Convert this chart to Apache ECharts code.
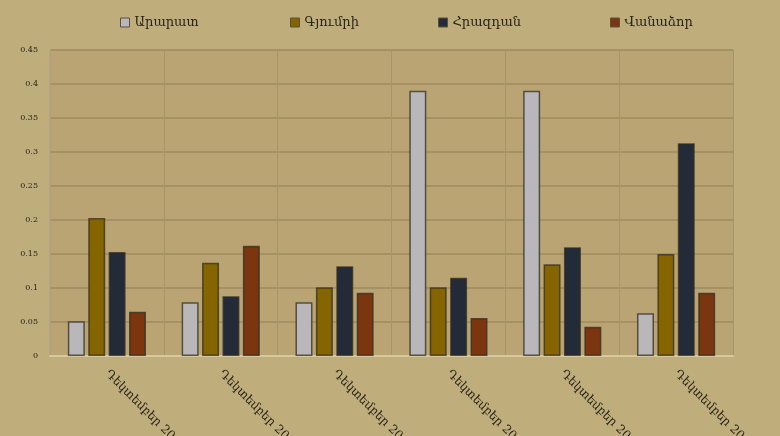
<!DOCTYPE html>
<html><head><meta charset="utf-8">
<script src="https://cdn.jsdelivr.net/npm/echarts@6/dist/echarts.min.js"></script>
<style>html,body{margin:0;padding:0;background:#bfae7c}#c{width:780px;height:436px}</style>
</head><body><div id="c"></div>
<script>
const categories = ["Դեկտեմբեր 2009","Դեկտեմբեր 2010","Դեկտեմբեր 2011","Դեկտեմբեր 2012","Դեկտեմբեր 2013","Դեկտեմբեր 2014"];
const seriesNames = ["Արարատ","Գյումրի","Հրազդան","Վանաձոր"];
const ararat   = [0.051,0.079,0.079,0.390,0.390,0.063];
const gyumri   = [0.203,0.137,0.101,0.101,0.135,0.150];
const hrazdan  = [0.153,0.088,0.132,0.115,0.160,0.313];
const vanadzor = [0.065,0.162,0.093,0.056,0.043,0.093];
const yTicks = ["0","0.05","0.1","0.15","0.2","0.25","0.3","0.35","0.4","0.45"];

const colors = ["#b9b7b9","#846500","#232a38","#7b3610"];
const values = [ararat, gyumri, hrazdan, vanadzor];
const font = "DejaVu Serif";
const legendLefts = [115, 285, 433, 605];

const chart = echarts.init(document.getElementById('c'));
chart.setOption({
  backgroundColor: '#bfae7c',
  color: colors,
  textStyle: {fontFamily: font},
  legend: seriesNames.map((n, i) => ({
    data: [n], left: legendLefts[i], top: 11,
    icon: 'rect', itemWidth: 9, itemHeight: 9, itemGap: 4,
    textStyle: {fontFamily: font, fontSize: 13, color: '#2a2418'},
    itemStyle: {borderColor: '#5a5040', borderWidth: 1}
  })),
  grid: {left: 50, right: 47, top: 50, bottom: 80, show: true, outerBoundsMode: 'none', containLabel: false,
         backgroundColor: '#baa474', borderColor: '#b0a07a', borderWidth: 1},
  xAxis: {
    type: 'category', data: categories,
    axisLine: {lineStyle: {color: '#d6c99c', width: 2}},
    axisTick: {show: false},
    splitLine: {show: true, lineStyle: {color: '#a89468', width: 1}},
    axisLabel: {rotate: -45, fontSize: 12, color: '#2a2418', fontFamily: font, margin: 16, interval: 0}
  },
  yAxis: {
    type: 'value', min: 0, max: 0.45, interval: 0.05,
    axisLine: {show: true, lineStyle: {color: '#a8a08a'}},
    axisTick: {show: false},
    splitLine: {lineStyle: {color: '#9e8b5e', width: 1.5}},
    axisLabel: {fontSize: 8, color: '#2a2418', fontFamily: font, margin: 12,
      formatter: (v) => yTicks[Math.round(v / 0.05)] ?? String(v)}
  },
  series: seriesNames.map((n, i) => ({
    name: n, type: 'bar', data: values[i],
    barWidth: 17, barGap: '20%',
    itemStyle: {color: colors[i], borderColor: 'rgba(50,45,35,0.75)', borderWidth: 1.5}
  }))
});
</script></body></html>
